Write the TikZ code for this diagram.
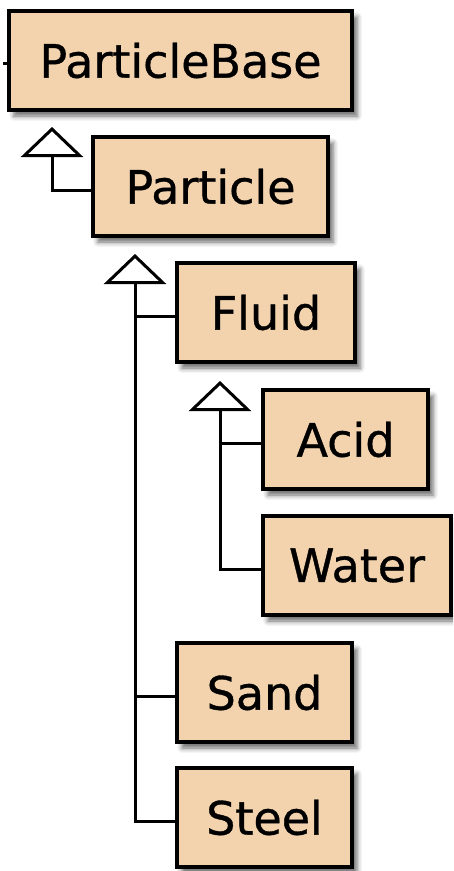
\documentclass[tikz,border=0pt]{standalone}
\usepackage{fontspec}
\setmainfont[FakeBold=0.8]{DejaVu Sans}
\usetikzlibrary{arrows.meta,shadows.blur}
\definecolor{classfill}{HTML}{F2D3AE}
\tikzset{
  cls/.style={draw=black, line width=3.6pt, fill=classfill, anchor=north west,
    outer sep=0pt, inner sep=0pt, minimum height=99pt,
    font=\fontsize{46}{50}\selectfont,
    blur shadow={shadow xshift=5pt, shadow yshift=-6pt,
      shadow blur radius=5pt, shadow opacity=60}},
  link/.style={line width=3pt, draw=black},
  inherit/.style={link, -{Triangle[open, fill=white, length=30pt, width=62pt]}}
}
\begin{document}
\begin{tikzpicture}[x=1pt,y=-1pt]
\useasboundingbox (0,0) rectangle (453,871);
\clip (0,0) rectangle (453,871);

% class boxes
\node[cls, minimum width=343pt] (base)     at (9,11)   {ParticleBase};
\node[cls, minimum width=235pt] (particle) at (93,137)  {Particle};
\node[cls, minimum width=178pt] (fluid)    at (177,263) {Fluid};
\node[cls, minimum width=165pt] (acid)     at (263,390) {Acid};
\node[cls, minimum width=188pt] (water)    at (263,516) {Water};
\node[cls, minimum width=175pt] (sand)     at (177,643) {Sand};
\node[cls, minimum width=175pt] (steel)    at (177,768) {Steel};

% arrow heads of the generalisations
\coordinate (baseHead)     at (52,127);
\coordinate (particleHead) at (135,254);
\coordinate (fluidHead)    at (220,381);
\coordinate (stub)         at (3,63);

% attachment points on the child boxes
\coordinate (pIn) at ([yshift=-4pt]particle.west);
\coordinate (fIn) at ([yshift=-4pt]fluid.west);
\coordinate (aIn) at ([yshift=-4pt]acid.west);
\coordinate (wIn) at ([yshift=-4pt]water.west);
\coordinate (sIn) at ([yshift=-4pt]sand.west);
\coordinate (tIn) at ([yshift=-4pt]steel.west);

\draw[link] (stub) -- (stub -| base.west);
\draw[inherit] (pIn) -| (baseHead);
\draw[inherit] (tIn) -| (particleHead);
\draw[link] (fIn) -- (fIn -| particleHead);
\draw[link] (sIn) -- (sIn -| particleHead);
\draw[inherit] (wIn) -| (fluidHead);
\draw[link] (aIn) -- (aIn -| fluidHead);
\end{tikzpicture}
\end{document}
